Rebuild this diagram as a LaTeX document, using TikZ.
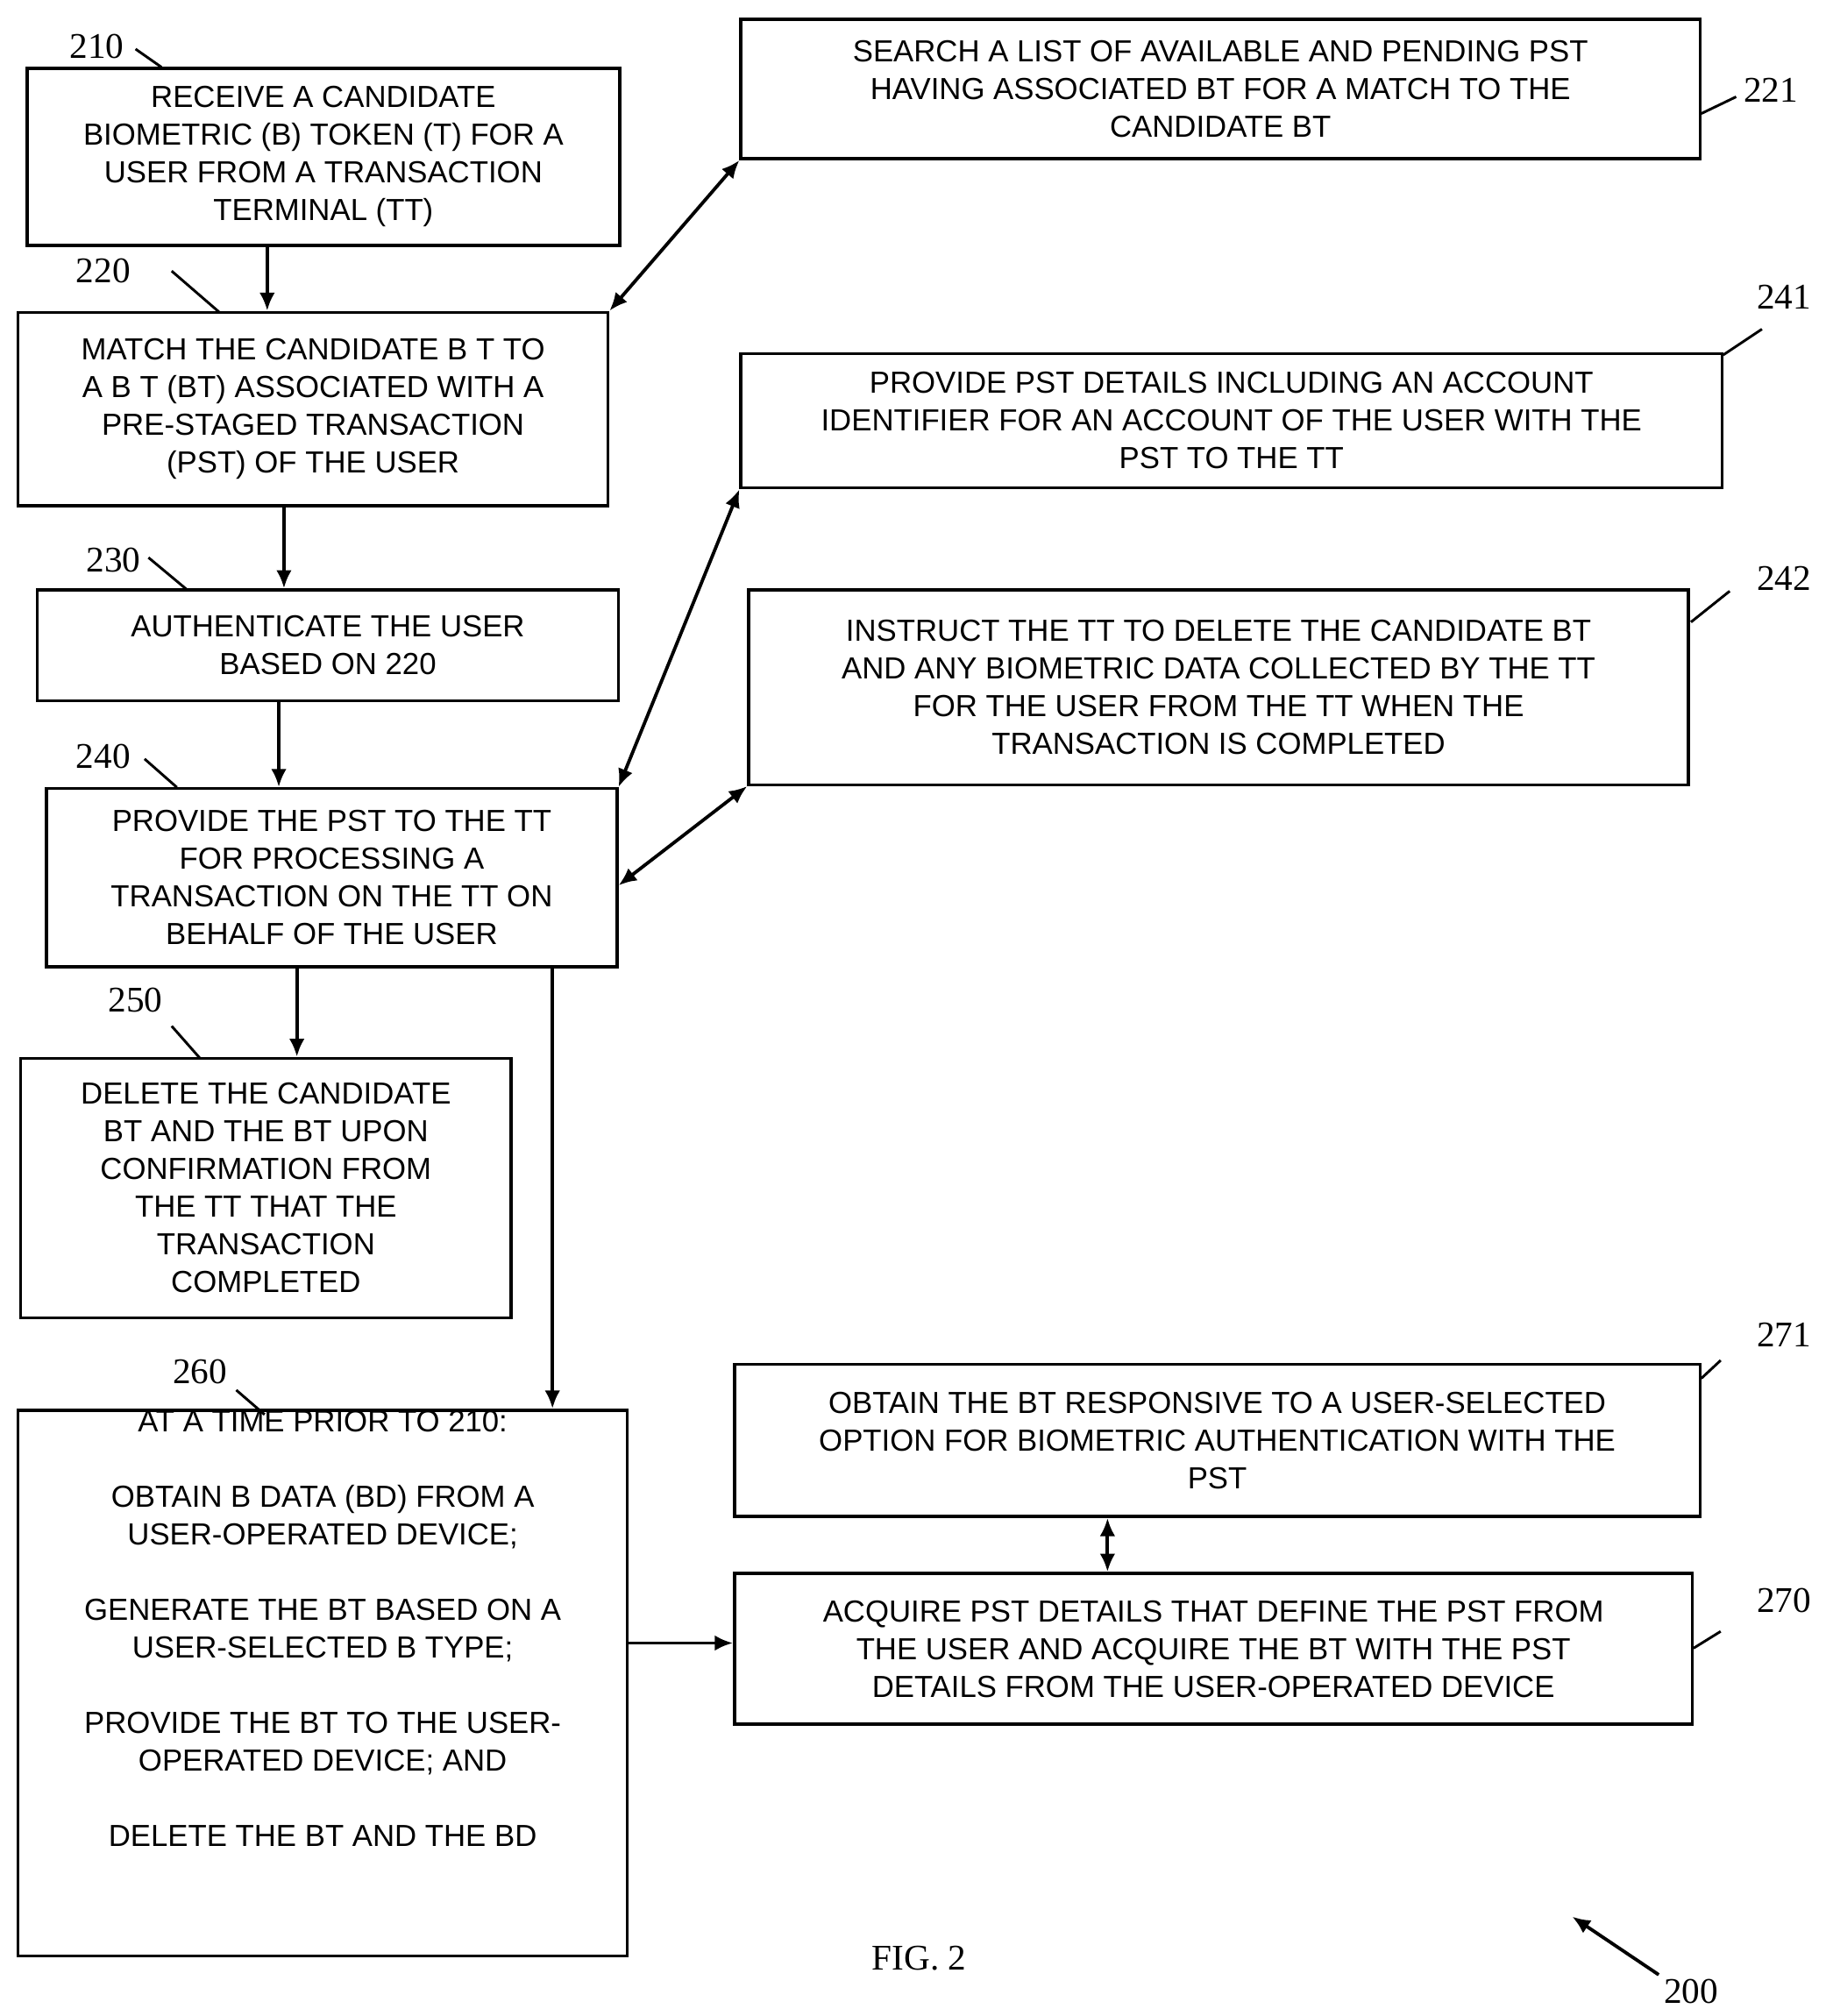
\documentclass[tikz,border=0pt]{standalone}
\usepackage{fontspec}
\setmainfont{Liberation Sans}
\newfontfamily\serifnum{Liberation Serif}
\usetikzlibrary{arrows.meta}
\begin{document}
\begin{tikzpicture}[x=0.5pt,y=-0.5pt,
  box/.style={draw,line width=1.2pt,align=center,inner sep=0pt,font=\fontsize{11.8}{14.6}\selectfont},
  arr/.style={line width=1.3pt,-{Latex[length=7pt,width=6pt]}},
  darr/.style={line width=1.3pt,{Latex[length=7pt,width=6pt]}-{Latex[length=7pt,width=6pt]}},
  lbl/.style={font=\serifnum\fontsize{14}{16}\selectfont},
  ld/.style={line width=1pt}]
\useasboundingbox (0,0) rectangle (1414,1562);
\node[box,minimum width=229.5pt,minimum height=68.5pt] (b210) at (250.5,121.5) {RECEIVE A CANDIDATE\\BIOMETRIC (B) TOKEN (T) FOR A\\USER FROM A TRANSACTION\\TERMINAL (TT)};
\node[box,minimum width=371.5pt,minimum height=54pt] (b221) at (945.5,69) {SEARCH A LIST OF AVAILABLE AND PENDING PST\\HAVING ASSOCIATED BT FOR A MATCH TO THE\\CANDIDATE BT};
\node[box,minimum width=228.5pt,minimum height=75pt] (b220) at (242.5,317) {MATCH THE CANDIDATE B T TO\\A B T (BT) ASSOCIATED WITH A\\PRE-STAGED TRANSACTION\\(PST) OF THE USER};
\node[box,minimum width=380pt,minimum height=52pt] (b241) at (954,326) {PROVIDE PST DETAILS INCLUDING AN ACCOUNT\\IDENTIFIER FOR AN ACCOUNT OF THE USER WITH THE\\PST TO THE TT};
\node[box,minimum width=225pt,minimum height=43pt] (b230) at (254,500) {AUTHENTICATE THE USER\\BASED ON 220};
\node[box,minimum width=364pt,minimum height=75.5pt] (b242) at (944,532.5) {INSTRUCT THE TT TO DELETE THE CANDIDATE BT\\AND ANY BIOMETRIC DATA COLLECTED BY THE TT\\FOR THE USER FROM THE TT WHEN THE\\TRANSACTION IS COMPLETED};
\node[box,minimum width=221pt,minimum height=69pt] (b240) at (257,680) {PROVIDE THE PST TO THE TT\\FOR PROCESSING A\\TRANSACTION ON THE TT ON\\BEHALF OF THE USER};
\node[box,minimum width=190pt,minimum height=100.5pt] (b250) at (206,920.5) {DELETE THE CANDIDATE\\BT AND THE BT UPON\\CONFIRMATION FROM\\THE TT THAT THE\\TRANSACTION\\COMPLETED};
\node[box,minimum width=236pt,minimum height=208pt] (b260) at (250,1304) {AT A TIME PRIOR TO 210:\\[14.6pt]OBTAIN B DATA (BD) FROM A\\USER-OPERATED DEVICE;\\[14.6pt]GENERATE THE BT BASED ON A\\USER-SELECTED B TYPE;\\[14.6pt]PROVIDE THE BT TO THE USER-\\OPERATED DEVICE; AND\\[14.6pt]DELETE THE BT AND THE BD\\[28pt]};
\node[box,minimum width=374pt,minimum height=59pt] (b271) at (943,1116) {OBTAIN THE BT RESPONSIVE TO A USER-SELECTED\\OPTION FOR BIOMETRIC AUTHENTICATION WITH THE\\PST};
\node[box,minimum width=371pt,minimum height=58.5pt] (b270) at (940,1277.5) {ACQUIRE PST DETAILS THAT DEFINE THE PST FROM\\THE USER AND ACQUIRE THE BT WITH THE PST\\DETAILS FROM THE USER-OPERATED DEVICE};
% flow arrows
\draw[arr] (b210.south -| 207,0) -- (b220.north -| 207,0);
\draw[arr] (b220.south -| 220,0) -- (b230.north -| 220,0);
\draw[arr] (b230.south -| 216,0) -- (b240.north -| 216,0);
\draw[arr] (b240.south -| 230,0) -- (b250.north -| 230,0);
\draw[arr] (b240.south -| 428,0) -- (b260.north -| 428,0);
\draw[darr] (b220.north east) -- (b221.south west);
\draw[darr] (b240.north east) -- (b241.south west);
\draw[darr] (b240.east |- 0,686) -- (b242.south west);
\draw[darr] (b271.south -| 858,0) -- (b270.north -| 858,0);
\draw[arr] (b260.east |- 0,1273) -- (b270.west |- 0,1273);
% labels
\node[lbl] (l210) at (75,36) {210}; \draw[ld] (105,38) -- (125,52);
\node[lbl] (l221) at (1372,70) {221}; \draw[ld] (1318,88) -- (1345,75);
\node[lbl] (l220) at (80,210) {220}; \draw[ld] (133,210) -- (170,242);
\node[lbl] (l241) at (1382,230) {241}; \draw[ld] (1335,275) -- (1365,255);
\node[lbl] (l230) at (88,434) {230}; \draw[ld] (115,432) -- (145,457);
\node[lbl] (l242) at (1382,448) {242}; \draw[ld] (1310,482) -- (1340,458);
\node[lbl] (l240) at (80,586) {240}; \draw[ld] (112,588) -- (137,610);
\node[lbl] (l250) at (105,775) {250}; \draw[ld] (133,795) -- (155,820);
\node[lbl] (l260) at (155,1063) {260}; \draw[ld] (183,1077) -- (205,1096);
\node[lbl] (l271) at (1382,1034) {271}; \draw[ld] (1318,1068) -- (1333,1054);
\node[lbl] (l270) at (1382,1240) {270}; \draw[ld] (1312,1277) -- (1333,1264);
\node[lbl] (l200) at (1310,1543) {200};
\coordinate (a200) at (1218,1485);
\draw[arr] (1285,1530) -- (a200);
\node[lbl] (fig) at (712,1517) {FIG. 2};
\end{tikzpicture}
\end{document}
